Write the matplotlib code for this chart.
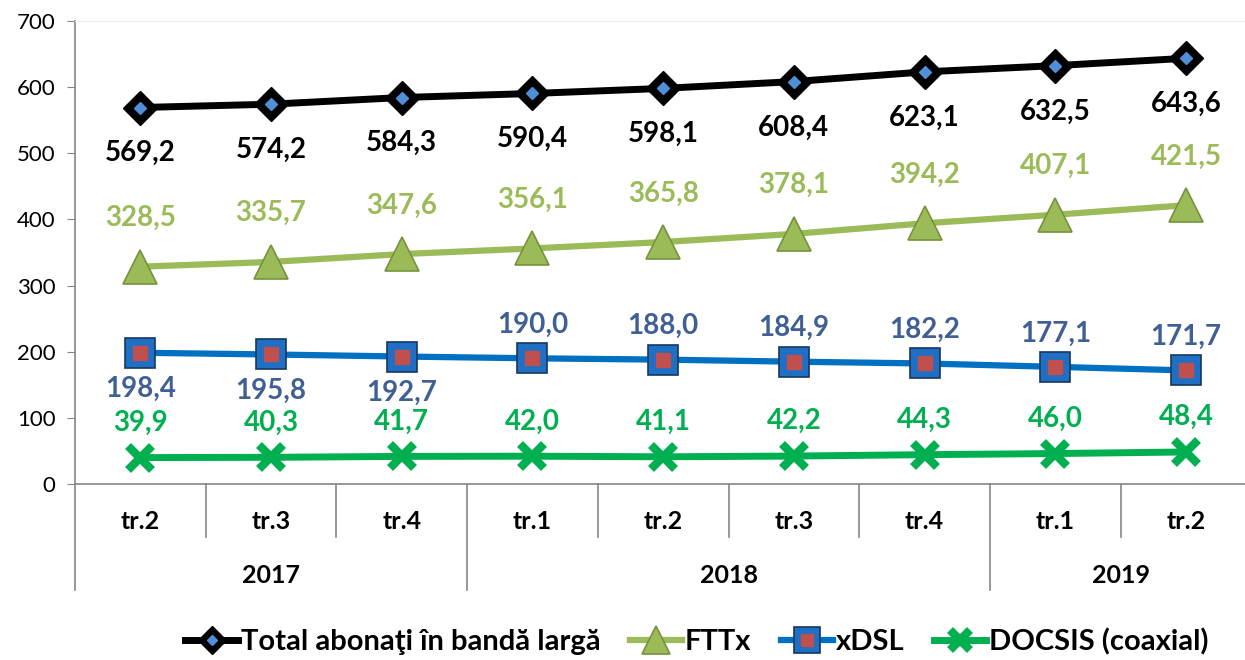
import matplotlib.pyplot as plt
import numpy as np

# data
quarters = ['tr.2', 'tr.3', 'tr.4', 'tr.1', 'tr.2', 'tr.3', 'tr.4', 'tr.1', 'tr.2']
years = ['2017', '2018', '2019']
year_span = [(0, 2), (3, 6), (7, 8)]
total = [569.2, 574.2, 584.3, 590.4, 598.1, 608.4, 623.1, 632.5, 643.6]
fttx = [328.5, 335.7, 347.6, 356.1, 365.8, 378.1, 394.2, 407.1, 421.5]
xdsl = [198.4, 195.8, 192.7, 190.0, 188.0, 184.9, 182.2, 177.1, 171.7]
docsis = [39.9, 40.3, 41.7, 42.0, 41.1, 42.2, 44.3, 46.0, 48.4]

plt.rcParams['font.family'] = ['Lato', 'DejaVu Sans']

fig = plt.figure(figsize=(12.45, 6.6), dpi=100)
ax = fig.add_axes([0.0602, 0.2667, 0.945, 0.7015])
x = np.arange(len(quarters))

# lines + markers
t1, = ax.plot(x, total, color='black', lw=5, marker='D', ms=17, mfc='black', mec='black', zorder=5)
t2, = ax.plot(x, total, ls='none', marker='D', ms=6, mfc='#4F8FD8', mec='#4F8FD8', zorder=6)
f1, = ax.plot(x, fttx, color='#9BBB59', lw=4.5, marker='^', ms=24, mfc='#9BBB59', mec='#76923C', mew=1.2, zorder=5)
d1, = ax.plot(x, xdsl, color='#0070C0', lw=4.5, marker='s', ms=22, mfc='#1F6FC5', mec='#17375E', mew=1.2, zorder=5)
d2, = ax.plot(x, xdsl, ls='none', marker='s', ms=10, mfc='#C0504D', mec='#C0504D', zorder=6)
c1, = ax.plot(x, docsis, color='#00B050', lw=5, marker='x', ms=17, mew=6, mec='#00B050', zorder=5)

def fmt(v):
    return f'{v:.1f}'.replace('.', ',')

lab_kw = dict(textcoords='offset points', ha='center', va='center', fontsize=20, fontweight='bold')
for i in range(len(x)):
    ax.annotate(fmt(total[i]), (x[i], total[i]), xytext=(0, -33), color='black', **lab_kw)
    ax.annotate(fmt(fttx[i]), (x[i], fttx[i]), xytext=(0, 35), color='#9BBB59', **lab_kw)
    off = -26 if i < 3 else 24
    ax.annotate(fmt(xdsl[i]), (x[i], xdsl[i]), xytext=(0, off), color='#3F5F95', **lab_kw)
    ax.annotate(fmt(docsis[i]), (x[i], docsis[i]), xytext=(0, 25), color='#00B050', **lab_kw)

ax.set_xlim(-0.5, 8.5)
ax.set_ylim(0, 700)
ax.set_yticks(range(0, 701, 100))
ax.tick_params(axis='y', labelsize=16, length=6, color='#868686', pad=8)
ax.set_xticks([])
for s in ['left', 'bottom']:
    ax.spines[s].set_color('#868686')
    ax.spines[s].set_linewidth(1.2)
ax.spines['top'].set_color('#EEEEEE')
ax.spines['right'].set_visible(False)

# category axis separators and labels
tr = ax.get_xaxis_transform()
year_bounds = [-0.5, 2.5, 6.5, 8.5]
for b in np.arange(-0.5, 9, 1.0):
    low = -0.229 if b in year_bounds else -0.1145
    ax.plot([b, b], [0, low], transform=tr, color='#868686', lw=1.2, clip_on=False)
for i, q in enumerate(quarters):
    ax.text(i, -0.082, q, transform=tr, ha='center', va='center', fontsize=18, fontweight='bold')
for yr, (a, b) in zip(years, year_span):
    ax.text((a + b) / 2, -0.197, yr, transform=tr, ha='center', va='center', fontsize=18, fontweight='bold')

leg = fig.legend([(t1, t2), f1, (d1, d2), c1],
                 ['Total abonaţi în bandă largă', 'FTTx', 'xDSL', 'DOCSIS (coaxial)'],
                 loc='center', bbox_to_anchor=(0.56, 0.028), ncol=4, frameon=False,
                 prop={'size': 21, 'weight': 'bold'}, handlelength=1.8, columnspacing=1.0,
                 handletextpad=0.1, borderaxespad=0, markerscale=0.85)

fig.savefig('out.png', dpi=100)
